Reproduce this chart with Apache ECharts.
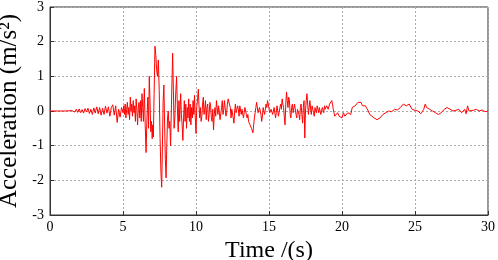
<!DOCTYPE html>
<html>
<head>
<meta charset="utf-8">
<script src="https://cdn.jsdelivr.net/npm/echarts@6/dist/echarts.min.js"></script>
<style>
  html, body { margin: 0; padding: 0; background: #fff; }
  #container { width: 498px; height: 260px; }
</style>
</head>
<body>
<div id="container"></div>
<script>
var dom = document.getElementById("container");
var myChart = echarts.init(dom);
var option;

// [time (s), acceleration (m/s^2)], split by phase
var preEvent = [
  [0, 0], [0.5, 0], [1.0, 0], [1.5, 0.01],
  [1.6, 0.03], [1.7, -0.03], [1.8, 0.05], [1.9, -0.04], [2.0, 0.06], [2.1, -0.05],
  [2.2, 0.04], [2.3, -0.06], [2.4, 0.07], [2.5, -0.03], [2.6, 0.08], [2.7, -0.07],
  [2.8, 0.05], [2.9, -0.1], [3.0, 0.09], [3.1, -0.06], [3.2, 0.12], [3.3, -0.08],
  [3.4, 0.1], [3.5, -0.12], [3.6, 0.08], [3.7, -0.1], [3.8, 0.14], [3.9, -0.06],
  [4.0, 0.12], [4.1, -0.15], [4.2, 0.1], [4.3, 0.18], [4.4, -0.12], [4.5, 0.15],
  [4.6, -0.33], [4.7, 0.05], [4.8, -0.18], [4.9, 0.1], [5.0, -0.05]
];

var strongMotion = [
  [5.05, 0.15], [5.1, -0.1], [5.15, 0.2], [5.2, -0.2], [5.25, 0.05], [5.3, 0.25],
  [5.35, -0.1], [5.4, 0.1], [5.45, -0.25], [5.5, 0.4], [5.55, 0.0], [5.6, 0.2],
  [5.65, -0.15], [5.7, 0.3], [5.75, -0.05], [5.8, 0.15], [5.85, -0.3], [5.9, 0.35],
  [5.95, 0.05], [6.0, -0.4], [6.05, 0.1], [6.1, 0.25], [6.15, -0.2], [6.2, 0.3],
  [6.25, -0.3], [6.3, 0.5], [6.35, 0.1], [6.4, -0.3], [6.46, 0.65], [6.52, -0.4],
  [6.58, -1.2], [6.64, -0.2], [6.7, 0.4], [6.75, -0.5], [6.8, 1.0], [6.85, 0.3],
  [6.9, -0.6], [6.95, -0.3], [7.0, -0.8], [7.04, -0.4], [7.08, -0.75], [7.13, 0.5],
  [7.19, 1.87], [7.25, 1.6], [7.3, 1.2], [7.36, 1.0], [7.42, 1.47], [7.48, 0.6],
  [7.54, -0.8], [7.6, -1.8], [7.65, -2.2], [7.7, -1.0], [7.75, 0.3], [7.8, 0.75],
  [7.85, -0.4], [7.9, -1.4], [7.95, -1.93], [8.0, -1.0], [8.05, -0.2], [8.1, 0.0],
  [8.15, -0.5], [8.2, -0.3], [8.26, -1.0], [8.32, 0.2], [8.4, 1.67], [8.45, 0.6],
  [8.5, -0.5], [8.55, -0.2], [8.6, 0.4], [8.67, 1.0], [8.72, 0.2], [8.78, -0.6],
  [8.83, 0.3], [8.88, -0.3], [8.95, 0.5], [9.0, -0.1], [9.05, -0.4], [9.1, -0.85],
  [9.15, -0.2], [9.2, 0.3], [9.25, -0.3], [9.3, 0.2], [9.35, -0.5], [9.4, 0.1],
  [9.45, -0.2], [9.5, 0.35], [9.55, -0.3], [9.6, 0.2], [9.65, -0.4], [9.7, 0.1],
  [9.75, -0.2], [9.8, 0.3], [9.85, -0.1], [9.9, 0.45], [9.95, -0.2], [10.0, -0.65],
  [10.05, 0.1], [10.1, 0.3], [10.16, 0.63], [10.2, 0.2], [10.25, -0.2]
];

var laterMotion = [
  [10.3, 0.1], [10.35, -0.3], [10.4, -0.15], [10.45, 0.2], [10.5, 0.4], [10.55, -0.1],
  [10.6, 0.05], [10.65, 0.3], [10.7, -0.25], [10.75, 0.1], [10.8, 0.2], [10.85, -0.3],
  [10.9, -0.1], [10.95, 0.25], [11.0, 0.15], [11.05, -0.2], [11.1, -0.3], [11.15, 0.05],
  [11.2, -0.55], [11.25, -0.1], [11.3, 0.1], [11.35, -0.15], [11.4, 0.3], [11.45, 0.1],
  [11.5, -0.1], [11.55, 0.15], [11.6, 0.2], [11.65, -0.25], [11.7, -0.2], [11.75, 0.1],
  [11.8, 0.3], [11.85, -0.1], [11.9, 0.05], [11.95, 0.3], [12.0, 0.25], [12.05, -0.15],
  [12.1, -0.05], [12.15, 0.2], [12.2, 0.35], [12.25, 0.4], [12.3, 0.3], [12.35, 0.1],
  [12.4, -0.2], [12.45, 0.05], [12.5, 0.1], [12.55, -0.2], [12.6, -0.35], [12.65, 0.0],
  [12.7, 0.2], [12.75, -0.05], [12.8, -0.1], [12.85, 0.15], [12.9, 0.05], [12.95, -0.15],
  [13.0, 0.15], [13.05, 0.1], [13.1, -0.1], [13.15, 0.05], [13.2, 0.1], [13.25, -0.2],
  [13.3, -0.05], [13.35, 0.1], [13.4, 0.0], [13.45, -0.1], [13.5, -0.2], [13.55, -0.1],
  [13.6, -0.3], [13.65, -0.35], [13.7, -0.4], [13.75, -0.45], [13.8, -0.5], [13.85, -0.55],
  [13.9, -0.63], [13.95, -0.4], [14.0, -0.2], [14.05, -0.05], [14.1, 0.1], [14.15, 0.25],
  [14.2, 0.2], [14.25, -0.05], [14.3, -0.1], [14.35, 0.1], [14.4, 0.15], [14.45, -0.1],
  [14.5, -0.3], [14.55, -0.15], [14.6, 0.1], [14.65, 0.0], [14.7, -0.1], [14.75, 0.05],
  [14.8, 0.2], [14.85, 0.1], [14.9, 0.3], [14.95, 0.2], [15.0, 0.15], [15.05, -0.05],
  [15.1, -0.1], [15.15, 0.05], [15.2, 0.1], [15.25, -0.1], [15.3, -0.15], [15.35, 0.1],
  [15.4, 0.05], [15.45, -0.2], [15.5, -0.05], [15.55, 0.15], [15.6, 0.1], [15.65, -0.15],
  [15.7, -0.1], [15.75, 0.1], [15.8, 0.2], [15.85, 0.05], [15.9, 0.35], [15.95, 0.2],
  [16.0, 0.1], [16.05, -0.2], [16.1, -0.4], [16.15, 0.2], [16.2, 0.55], [16.25, 0.3],
  [16.3, 0.1], [16.35, 0.4], [16.4, 0.3], [16.45, -0.1], [16.5, -0.2], [16.55, 0.1],
  [16.6, 0.2], [16.65, -0.05], [16.7, -0.1], [16.75, 0.2], [16.8, 0.15], [16.85, -0.1],
  [16.9, -0.2], [16.95, 0.05], [17.0, 0.1], [17.05, -0.1], [17.1, -0.25], [17.15, 0.1],
  [17.2, 0.2], [17.25, -0.1], [17.3, -0.35], [17.35, 0.1], [17.4, 0.3], [17.45, -0.78],
  [17.5, 0.0], [17.55, 0.3], [17.6, 0.5], [17.65, 0.2], [17.7, -0.1], [17.75, 0.1],
  [17.8, 0.3], [17.85, 0.05], [17.9, -0.1], [17.95, 0.15], [18.0, 0.1], [18.05, -0.05],
  [18.1, -0.15], [18.15, 0.1], [18.2, 0.05], [18.25, -0.05], [18.3, 0.15], [18.35, 0.05],
  [18.4, -0.05], [18.45, 0.1], [18.5, 0.1], [18.55, -0.1], [18.6, -0.1], [18.65, 0.1],
  [18.7, 0.05], [18.75, -0.05], [18.8, 0.15], [18.85, 0.05], [18.9, 0.0], [18.95, 0.15],
  [19.0, 0.2], [19.05, 0.05], [19.1, 0.1], [19.15, 0.2], [19.2, 0.25], [19.25, 0.15],
  [19.3, 0.3], [19.35, 0.2], [19.4, 0.05], [19.45, -0.05], [19.5, -0.15]
];

var coda = [
  [19.6, -0.2], [19.7, -0.05], [19.8, -0.15], [19.9, -0.1], [20.0, -0.2], [20.1, -0.05],
  [20.2, -0.15], [20.3, -0.12], [20.4, -0.05], [20.5, 0.0], [20.6, -0.1], [20.7, 0.1],
  [20.8, 0.05], [20.9, 0.15], [21.0, 0.2], [21.1, 0.25], [21.2, 0.3], [21.3, 0.25],
  [21.4, 0.15], [21.5, 0.2], [21.6, 0.15], [21.7, 0.1], [21.8, 0.0], [21.9, -0.1],
  [22.0, -0.15], [22.2, -0.2], [22.4, -0.25], [22.5, -0.28], [22.6, -0.2], [22.8, -0.1],
  [23.0, -0.05], [23.2, 0.0], [23.4, -0.02], [23.6, 0.05], [23.8, 0.03], [24.0, 0.1],
  [24.2, 0.2], [24.3, 0.24], [24.4, 0.15], [24.6, 0.2], [24.8, 0.05], [25.0, 0.02],
  [25.2, 0.0], [25.4, -0.08], [25.5, -0.1], [25.6, 0.05], [25.7, 0.2], [25.8, 0.1],
  [26.0, 0.05], [26.2, 0.0], [26.4, -0.05], [26.6, -0.1], [26.8, -0.05], [27.0, 0.05],
  [27.2, 0.1], [27.4, 0.05], [27.6, 0.0], [27.8, 0.02], [28.0, 0.05], [28.2, -0.05],
  [28.4, 0.05], [28.5, -0.08], [28.6, 0.15], [28.7, 0.0], [28.8, 0.05], [29.0, 0.02],
  [29.2, 0.05], [29.4, 0.0], [29.6, 0.03], [29.8, -0.02], [30.0, 0.0]
];

var xTicks = [0, 5, 10, 15, 20, 25, 30];
var yTicks = [-3, -2, -1, 0, 1, 2, 3];

var points = preEvent.concat(strongMotion, laterMotion, coda);

var fontFamily = "'Liberation Serif', 'Times New Roman', serif";

option = {
  animation: false,
  grid: {
    left: 50,
    right: 10,
    top: 7,
    bottom: 45,
    outerBoundsMode: "none",
    containLabel: false,
    show: true,
    borderColor: "#333",
    borderWidth: 1
  },
  xAxis: {
    type: "value",
    min: xTicks[0],
    max: xTicks[xTicks.length - 1],
    interval: 5,
    name: "Time /(s)",
    nameLocation: "middle",
    nameGap: 15,
    nameTextStyle: { fontFamily: fontFamily, fontSize: 24, color: "#000" },
    axisLine: { onZero: false, lineStyle: { color: "#333" } },
    axisTick: { inside: true, length: 4, lineStyle: { color: "#333" } },
    axisLabel: { fontFamily: fontFamily, fontSize: 14, color: "#000", margin: 5 },
    splitLine: { show: true, lineStyle: { color: "#aaa", type: [2, 2] } }
  },
  yAxis: {
    type: "value",
    min: yTicks[0],
    max: yTicks[yTicks.length - 1],
    interval: 1,
    name: "Acceleration (m/s²)",
    nameLocation: "middle",
    nameGap: 23,
    nameTextStyle: { fontFamily: fontFamily, fontSize: 25, color: "#000" },
    axisLine: { onZero: false, lineStyle: { color: "#333" } },
    axisTick: { inside: true, length: 4, lineStyle: { color: "#333" } },
    axisLabel: { fontFamily: fontFamily, fontSize: 14, color: "#000", margin: 6 },
    splitLine: { show: true, lineStyle: { color: "#aaa", type: [2, 2] } }
  },
  series: [
    {
      type: "line",
      data: points,
      showSymbol: false,
      lineStyle: { color: "#ff0000", width: 1 },
      itemStyle: { color: "#ff0000" }
    }
  ]
};

myChart.setOption(option);
</script>
</body>
</html>
